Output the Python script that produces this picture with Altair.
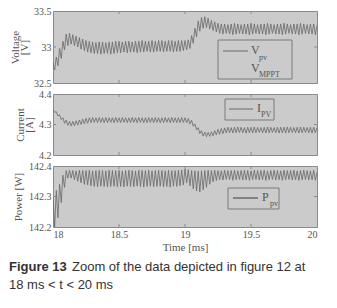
import altair as alt
import pandas as pd

# One oscillation cycle every 0.025 ms: a peak value and a trough value per cycle
voltage_hi = [
    32.78, 32.86, 32.98, 33.08, 33.18, 33.19, 33.17, 33.15, 33.13, 33.11,
    33.09, 33.08, 33.07, 33.06, 33.07, 33.07, 33.06, 33.07, 33.07, 33.08,
    33.08, 33.07, 33.08, 33.08, 33.07, 33.08, 33.08, 33.09, 33.08, 33.08,
    33.09, 33.08, 33.09, 33.09, 33.08, 33.09, 33.09, 33.08, 33.09, 33.09,
    33.09, 33.10, 33.16, 33.26, 33.36, 33.41, 33.42, 33.40, 33.37, 33.35,
    33.33, 33.32, 33.32, 33.31, 33.32, 33.33, 33.32, 33.31, 33.32, 33.32,
    33.33, 33.32, 33.31, 33.32, 33.32, 33.33, 33.32, 33.31, 33.32, 33.32,
    33.33, 33.32, 33.31, 33.32, 33.32, 33.33, 33.32, 33.31, 33.32, 33.32,
    33.30,
]
voltage_lo = [
    32.68, 32.74, 32.84, 32.96, 33.02, 33.04, 33.02, 33.00, 32.97, 32.95,
    32.93, 32.92, 32.91, 32.91, 32.90, 32.91, 32.91, 32.90, 32.91, 32.92,
    32.92, 32.93, 32.92, 32.93, 32.93, 32.92, 32.93, 32.93, 32.94, 32.93,
    32.93, 32.94, 32.94, 32.93, 32.94, 32.94, 32.93, 32.94, 32.94, 32.95,
    32.96, 32.98, 33.05, 33.14, 33.22, 33.26, 33.27, 33.25, 33.23, 33.21,
    33.19, 33.18, 33.19, 33.18, 33.17, 33.18, 33.19, 33.18, 33.18, 33.17,
    33.18, 33.19, 33.18, 33.18, 33.17, 33.18, 33.19, 33.18, 33.18, 33.17,
    33.18, 33.19, 33.18, 33.18, 33.17, 33.18, 33.19, 33.18, 33.18, 33.17,
]

current_hi = [
    4.350, 4.342, 4.332, 4.322, 4.314, 4.310, 4.310, 4.312, 4.315, 4.318,
    4.320, 4.322, 4.323, 4.322, 4.323, 4.322, 4.323, 4.322, 4.322, 4.323,
    4.322, 4.323, 4.322, 4.322, 4.323, 4.322, 4.323, 4.322, 4.322, 4.323,
    4.322, 4.323, 4.322, 4.322, 4.323, 4.322, 4.323, 4.322, 4.322, 4.323,
    4.322, 4.320, 4.314, 4.302, 4.290, 4.280, 4.275, 4.274, 4.276, 4.280,
    4.284, 4.287, 4.289, 4.291, 4.290, 4.291, 4.292, 4.291, 4.290, 4.291,
    4.291, 4.292, 4.291, 4.290, 4.291, 4.292, 4.291, 4.290, 4.291, 4.291,
    4.291, 4.292, 4.291, 4.290, 4.291, 4.292, 4.291, 4.290, 4.291, 4.291,
    4.290,
]
current_lo = [
    4.340, 4.328, 4.316, 4.304, 4.297, 4.295, 4.296, 4.298, 4.300, 4.302,
    4.304, 4.306, 4.307, 4.306, 4.307, 4.306, 4.306, 4.307, 4.306, 4.307,
    4.306, 4.307, 4.306, 4.306, 4.307, 4.306, 4.307, 4.306, 4.306, 4.307,
    4.306, 4.307, 4.306, 4.306, 4.307, 4.306, 4.307, 4.306, 4.306, 4.307,
    4.306, 4.302, 4.294, 4.282, 4.270, 4.262, 4.260, 4.261, 4.263, 4.266,
    4.268, 4.270, 4.272, 4.273, 4.272, 4.273, 4.274, 4.273, 4.272, 4.273,
    4.272, 4.273, 4.274, 4.273, 4.272, 4.273, 4.274, 4.273, 4.272, 4.273,
    4.272, 4.273, 4.274, 4.273, 4.272, 4.273, 4.274, 4.273, 4.272, 4.273,
]

power_hi = [
    142.300, 142.320, 142.340, 142.370, 142.385, 142.386, 142.385, 142.384, 142.386, 142.385,
    142.385, 142.386, 142.384, 142.385, 142.386, 142.385, 142.384, 142.386, 142.385, 142.385,
    142.386, 142.384, 142.385, 142.386, 142.385, 142.384, 142.386, 142.385, 142.385, 142.386,
    142.384, 142.385, 142.386, 142.385, 142.384, 142.386, 142.385, 142.385, 142.386, 142.387,
    142.390, 142.388, 142.385, 142.384, 142.383, 142.384, 142.385, 142.386, 142.385, 142.386,
    142.385, 142.384, 142.386, 142.385, 142.385, 142.386, 142.384, 142.385, 142.386, 142.385,
    142.384, 142.386, 142.385, 142.385, 142.386, 142.384, 142.385, 142.386, 142.385, 142.384,
    142.386, 142.385, 142.385, 142.386, 142.384, 142.385, 142.386, 142.385, 142.384, 142.386,
    142.380,
]
power_lo = [
    142.200, 142.230, 142.280, 142.330, 142.360, 142.360, 142.355, 142.350, 142.345, 142.340,
    142.338, 142.335, 142.333, 142.332, 142.334, 142.333, 142.331, 142.333, 142.334, 142.332,
    142.333, 142.331, 142.334, 142.333, 142.332, 142.334, 142.333, 142.331, 142.333, 142.334,
    142.332, 142.333, 142.334, 142.332, 142.333, 142.331, 142.334, 142.333, 142.335, 142.338,
    142.345, 142.335, 142.325, 142.318, 142.315, 142.322, 142.330, 142.340, 142.348, 142.352,
    142.355, 142.354, 142.356, 142.355, 142.353, 142.355, 142.356, 142.354, 142.355, 142.353,
    142.355, 142.356, 142.354, 142.355, 142.353, 142.355, 142.356, 142.354, 142.355, 142.353,
    142.355, 142.356, 142.354, 142.355, 142.353, 142.355, 142.356, 142.354, 142.355, 142.353,
]

x_ticks = [18, 18.5, 19, 19.5, 20]
inner_x_ticks = [18.5, 19, 19.5]
v_ticks = [32.5, 33, 33.5]
i_ticks = [4.2, 4.3, 4.4]
p_ticks = [142.2, 142.3, 142.4]

# interleave peaks and troughs into one table
rows = []
for k in range(len(voltage_lo)):
    t0 = 18 + 0.025 * k
    rows.append({"t": t0, "V": voltage_hi[k], "I": current_hi[k], "P": power_hi[k]})
    rows.append({"t": t0 + 0.0125, "V": voltage_lo[k], "I": current_lo[k], "P": power_lo[k]})
rows.append({"t": 20.0, "V": voltage_hi[-1], "I": current_hi[-1], "P": power_hi[-1]})
df = pd.DataFrame(rows)
tick_df = pd.DataFrame({"t": inner_x_ticks})

BG = "#cbcbcb"
LINE = "#686868"
TXT = "#555555"
TICK = "#8a8a8a"
one = alt.Data(values=[{"a": 1}])
W = 264


def xs():
    return alt.Scale(domain=[18, 20], nice=False, zero=False)


def xaxis(show_x):
    if show_x:
        return alt.Axis(values=x_ticks, format="~g", title="Time [ms]", labelPadding=2,
                        titlePadding=2)
    return None


def line_layer(col, domain, ticks, title, show_x, tpad):
    return alt.Chart(df).mark_line(color=LINE, strokeWidth=0.8, clip=True).encode(
        x=alt.X("t:Q", scale=xs(), axis=xaxis(show_x)),
        y=alt.Y(f"{col}:Q", scale=alt.Scale(domain=domain, nice=False, zero=False),
                axis=alt.Axis(values=ticks, format="~g", title=title, titlePadding=tpad,
                              labelPadding=2, titleLineHeight=9)),
    )


def inner_ticks(h, show_x):
    # small inward tick marks on the frame edges
    top_t = alt.Chart(tick_df).mark_rule(color=TICK, strokeWidth=1).encode(
        x=alt.X("t:Q", scale=xs(), axis=xaxis(show_x)), y=alt.value(0), y2=alt.value(3))
    bot_t = alt.Chart(tick_df).mark_rule(color=TICK, strokeWidth=1).encode(
        x=alt.X("t:Q", scale=xs(), axis=xaxis(show_x)), y=alt.value(h - 3), y2=alt.value(h))
    right_t = alt.Chart(one).mark_rule(color=TICK, strokeWidth=1).encode(
        x=alt.value(W - 3), x2=alt.value(W), y=alt.value(h / 2))
    left_t = alt.Chart(one).mark_rule(color=TICK, strokeWidth=1).encode(
        x=alt.value(0), x2=alt.value(3), y=alt.value(h / 2))
    return [top_t, bot_t, right_t, left_t]


def box(x1, x2, y1, y2):
    return alt.Chart(one).mark_rect(fill=BG, stroke="#7a7a7a", strokeWidth=1).encode(
        x=alt.value(x1), x2=alt.value(x2), y=alt.value(y1), y2=alt.value(y2))


def sample(x1, x2, y, w=1):
    return alt.Chart(one).mark_rule(color=LINE, strokeWidth=w).encode(
        x=alt.value(x1), x2=alt.value(x2), y=alt.value(y))


def label(txt, x, y, size, font="Liberation Serif", weight="normal", color=TXT):
    return alt.Chart(one).mark_text(text=txt, align="left", baseline="alphabetic",
                                    font=font, fontSize=size, fontWeight=weight,
                                    color=color).encode(x=alt.value(x), y=alt.value(y))


top = alt.layer(
    line_layer("V", [32.5, 33.5], v_ticks, ["Voltage", "[V]"], False, 4),
    *inner_ticks(72, False),
    box(165, 239, 29, 68),
    sample(170, 195, 40),
    label("V", 198, 43, 12), label("pv", 206, 49, 8),
    label("V", 198, 61, 12), label("MPPT", 206, 66, 8),
).properties(width=W, height=72)

mid = alt.layer(
    line_layer("I", [4.2, 4.4], i_ticks, ["Current", "[A]"], False, 4),
    *inner_ticks(61, False),
    box(172, 221, 5, 26),
    sample(176, 200, 15),
    label("I", 204, 18, 12), label("PV", 208, 23, 8),
).properties(width=W, height=61)

bot = alt.layer(
    line_layer("P", [142.2, 142.4], p_ticks, "Power [W]", True, 5),
    *inner_ticks(61, True),
    box(175, 226, 22, 43),
    sample(180, 205, 32, 1.5),
    label("P", 209, 35, 12), label("pv", 217, 40, 8),
    label("Figure 13", -44, 105, 13, "Liberation Sans", "bold", "#333333"),
    label("Zoom of the data depicted in figure 12 at", 19, 105, 13, "Liberation Sans", "normal", "#333333"),
    label("18 ms < t < 20 ms", -44, 123, 13, "Liberation Sans", "normal", "#333333"),
).properties(width=W, height=61)

chart = alt.vconcat(top, mid, bot, spacing=11, bounds="flush").properties(
    padding={"left": 0, "top": -3, "right": 0, "bottom": 0}
).configure_view(
    fill=BG, stroke="#8a8a8a", strokeWidth=1
).configure_axis(
    labelFont="Liberation Serif", titleFont="Liberation Serif",
    labelColor=TXT, titleColor=TXT, labelFontSize=10, titleFontSize=11,
    titleFontWeight="normal", grid=False, ticks=False, domain=False,
)

chart.save("out.html", embed_options={"renderer": "svg", "actions": False})
